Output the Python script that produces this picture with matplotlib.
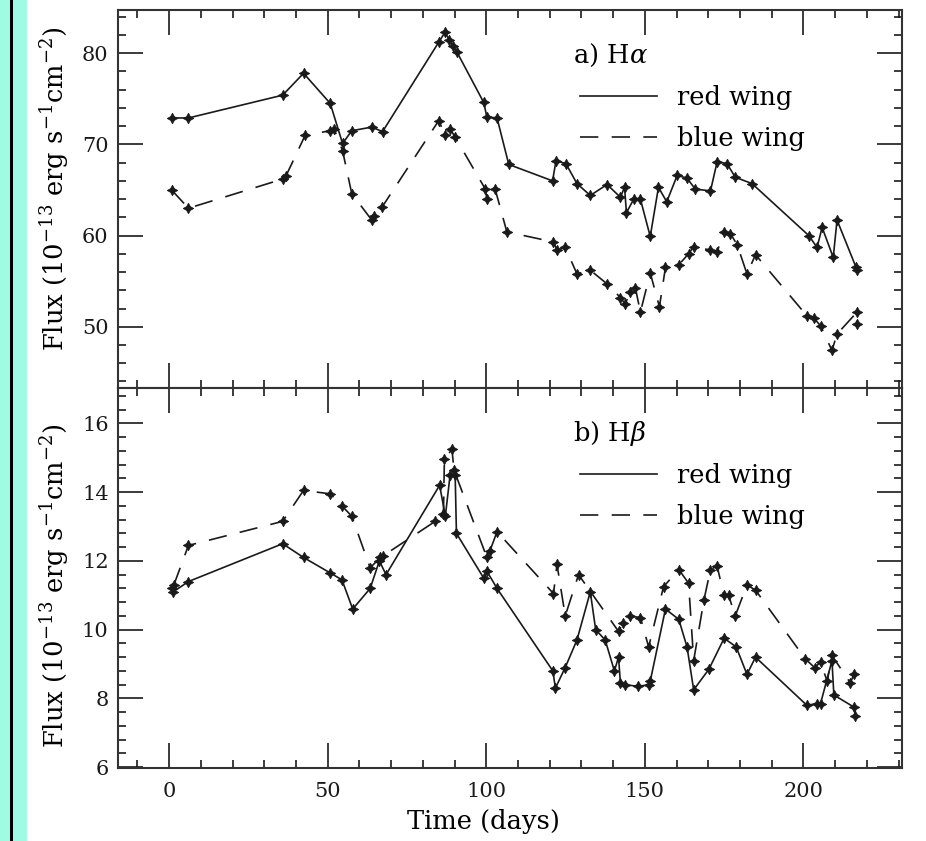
import matplotlib
matplotlib.use("Agg")
import matplotlib.pyplot as plt
from matplotlib.lines import Line2D
from matplotlib.patches import Rectangle
from matplotlib.ticker import MultipleLocator

plt.rcParams['font.family'] = ['DejaVu Serif']
plt.rcParams['mathtext.fontset'] = 'dejavuserif'

# H-alpha wing fluxes (time in days, flux in 1e-13 erg/s/cm^2)
ha_red_t = [0.8, 6.1, 35.8, 42.4, 50.8, 54.7, 57.6, 63.9, 67.3, 85.0, 87.0, 88.3, 89.5, 90.8,
            99.2, 100.2, 103.4, 107.1, 120.9, 122.0, 125.1, 128.6, 132.8, 138.1, 142.3, 143.6,
            144.2, 146.5, 148.6, 151.7, 154.3, 156.9, 160.2, 163.3, 165.9, 170.7, 172.8, 175.9,
            178.5, 183.8, 201.7, 204.3, 205.9, 209.4, 210.6, 216.5, 216.9]
ha_red_f = [72.9, 72.9, 75.4, 77.8, 74.5, 70.1, 71.5, 71.9, 71.4, 81.2, 82.3, 81.5, 80.8, 80.1,
            74.6, 73.0, 72.9, 67.8, 66.0, 68.2, 67.9, 65.7, 64.4, 65.6, 64.2, 65.3,
            62.5, 64.0, 64.0, 59.9, 65.3, 63.7, 66.6, 66.3, 65.1, 64.9, 68.1, 67.9,
            66.4, 65.7, 60.0, 58.7, 60.9, 57.6, 61.7, 56.6, 56.2]

ha_blue_t = [0.8, 6.1, 35.8, 36.8, 42.9, 50.8, 52.0, 54.7, 57.6, 63.9, 64.5, 67.1, 85.0, 87.1,
             88.6, 90.2, 99.7, 100.2, 102.8, 106.5, 121.2, 122.3, 124.9, 128.6, 132.8, 138.1,
             142.3, 143.8, 145.4, 147.0, 148.6, 151.7, 154.6, 156.5, 160.7, 163.8, 165.4, 170.7,
             172.8, 174.9, 177.0, 179.1, 182.2, 184.9, 201.1, 203.2, 205.4, 209.0, 210.6, 216.9,
             216.9]
ha_blue_f = [65.0, 63.0, 66.2, 66.5, 71.0, 71.5, 71.7, 69.3, 64.6, 61.7, 62.2, 63.1, 72.6, 71.0,
             71.7, 70.8, 65.1, 64.0, 65.1, 60.4, 59.3, 58.4, 58.7, 55.8, 56.2, 54.7,
             53.2, 52.5, 53.8, 54.3, 51.6, 55.9, 52.2, 56.5, 56.8, 58.0, 58.8, 58.4,
             58.2, 60.4, 60.2, 59.0, 55.8, 57.9, 51.2, 51.0, 50.1, 47.4, 49.2, 51.6,
             50.3]

# H-beta wing fluxes
hb_red_t = [0.8, 1.3, 6.1, 35.8, 42.4, 50.8, 54.5, 57.9, 63.4, 66.3, 68.4, 85.3, 87.1, 88.6,
            90.2, 90.6, 99.2, 100.2, 103.4, 121.0, 121.8, 124.9, 128.6, 132.8, 134.5, 137.5,
            140.4, 141.7, 142.3, 143.8, 148.0, 151.2, 151.7, 156.5, 160.7, 163.3, 165.4, 170.2,
            175.0, 178.8, 182.2, 184.9, 201.1, 204.3, 205.4, 209.0, 209.6, 215.9, 216.4]
hb_red_f = [11.2, 11.1, 11.4, 12.5, 12.1, 11.65, 11.45, 10.6, 11.2, 12.0, 11.6, 14.2, 13.3, 14.5,
            14.5, 12.8, 11.5, 11.7, 11.2, 8.8, 8.3, 8.9, 9.7, 11.1, 10.0, 9.7,
            8.8, 9.2, 8.45, 8.4, 8.35, 8.4, 8.5, 10.6, 10.3, 9.5, 8.25, 8.85,
            9.75, 9.5, 8.7, 9.2, 7.8, 7.85, 7.85, 9.1, 8.1, 7.75, 7.5]

hb_blue_t = [1.5, 6.1, 35.8, 42.4, 50.8, 54.5, 57.6, 63.4, 66.6, 67.5, 83.9, 86.5, 86.8, 89.2,
             89.8, 100.2, 101.2, 103.4, 121.2, 122.3, 124.9, 129.1, 141.7, 143.2, 145.4, 148.6,
             151.2, 155.9, 160.7, 163.8, 165.4, 168.6, 170.7, 172.8, 174.9, 176.4, 178.5, 182.2,
             184.9, 200.6, 203.5, 205.4, 207.5, 209.0, 214.8, 215.9]
hb_blue_f = [11.3, 12.45, 13.15, 14.05, 13.95, 13.6, 13.3, 11.8, 12.1, 12.15, 13.15, 13.35, 14.95, 15.25,
             14.65, 12.1, 12.3, 12.85, 11.05, 11.9, 10.4, 11.6, 9.95, 10.2, 10.4, 10.35,
             9.5, 11.25, 11.75, 11.35, 9.1, 10.85, 11.75, 11.85, 11.0, 11.0, 10.4, 11.3,
             11.15, 9.15, 8.9, 9.05, 8.5, 9.25, 8.45, 8.7]

panels = [
    dict(title=r'a) H$\alpha$', red=(ha_red_t, ha_red_f), blue=(ha_blue_t, ha_blue_f),
         ylim=(43.25, 84.75), major=10, minor=2),
    dict(title=r'b) H$\beta$', red=(hb_red_t, hb_red_f), blue=(hb_blue_t, hb_blue_f),
         ylim=(5.97, 17.02), major=2, minor=0.4),
]

ink = '#1a1a1a'
dash = (0, (11, 8))
star = (4, 1, 0)
fs = 18.5

fig = plt.figure(figsize=(9.26, 8.41), dpi=100)
# coloured page margin with a dark rule
fig.patches.append(Rectangle((0, 0), 27 / 926, 1, transform=fig.transFigure,
                             facecolor='#9ffbe1', edgecolor='none'))
fig.patches.append(Rectangle((10 / 926, 0), 2.5 / 926, 1, transform=fig.transFigure,
                             facecolor='black', edgecolor='none'))

left, width = 0.1278, 0.846
ax_top = fig.add_axes([left, 0.5383, width, 0.4499])
ax_bot = fig.add_axes([left, 0.0865, width, 0.4518])

for ax, p in zip([ax_top, ax_bot], panels):
    ax.plot(*p['red'], color=ink, lw=1.2, marker=star, ms=7.5, mew=0.6, mfc=ink, mec=ink)
    ax.plot(*p['blue'], color=ink, lw=1.2, ls=dash, marker=star, ms=7.5, mew=0.6, mfc=ink, mec=ink)

    ax.set_xlim(-16, 231)
    ax.set_ylim(*p['ylim'])
    ax.xaxis.set_major_locator(MultipleLocator(50))
    ax.xaxis.set_minor_locator(MultipleLocator(10))
    ax.yaxis.set_major_locator(MultipleLocator(p['major']))
    ax.yaxis.set_minor_locator(MultipleLocator(p['minor']))
    ax.tick_params(which='both', direction='in', top=True, right=True, colors=ink,
                   width=1.2, labelsize=15)
    ax.tick_params(which='major', length=18)
    ax.tick_params(which='minor', length=6)
    ax.tick_params(axis='x', pad=10)
    ax.tick_params(axis='y', pad=7)
    for s in ax.spines.values():
        s.set_linewidth(1.5)
        s.set_color('#333333')

    ax.set_ylabel(r'Flux (10$^{-13}$ erg s$^{-1}$cm$^{-2}$)', fontsize=fs)

    ax.text(0.58, 0.881, p['title'], transform=ax.transAxes, fontsize=fs, va='center')
    handles = [Line2D([], [], color=ink, lw=1.2),
               Line2D([], [], color=ink, lw=1.2, ls=dash)]
    ax.legend(handles, ['red wing', 'blue wing'], loc='center left',
              bbox_to_anchor=(0.589, 0.7155), frameon=False, fontsize=fs,
              handlelength=3.0, handletextpad=0.78, labelspacing=0.62,
              borderpad=0, borderaxespad=0)

ax_top.tick_params(labelbottom=False)
ax_top.yaxis.set_label_coords(-0.061, 0.527)
ax_bot.yaxis.set_label_coords(-0.061, 0.48)
ax_bot.set_xlabel('Time (days)', fontsize=fs)
ax_bot.xaxis.set_label_coords(0.4655, -0.108)

fig.savefig('out.png', dpi=100)
